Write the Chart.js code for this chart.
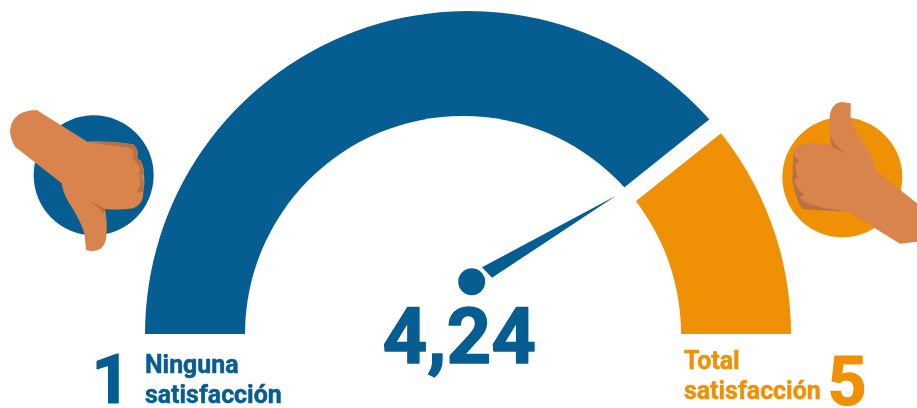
<!DOCTYPE html>
<html>
<head>
<meta charset="utf-8">
<style>
  html, body { margin: 0; padding: 0; background: #fff; overflow: hidden; }
  canvas { display: block; }
</style>
<script src="https://cdn.jsdelivr.net/npm/chart.js@4"></script>
</head>
<body>
<canvas id="gaugeCanvas" width="917" height="408"></canvas>
<script>
// tramos del arco (escala 1 a 5)
var segmentNames = ["Ninguna satisfacción", "Total satisfacción"];
var segmentValues = [3.1, 0.9];
var segmentColors = ["#055d92", "#f09105"];
var valueLabel = "4,24";
var minLabel = "1";
var maxLabel = "5";
var minText = ["Ninguna", "satisfacción"];
var maxText = ["Total", "satisfacción"];

var BLUE = "#055d92";
var ORANGE = "#f09105";
var SKIN = "#d9844d";
var SHADE = "#b87240";
var FONT = "Roboto, 'Liberation Sans', sans-serif";

function poly(ctx, pts, fill) {
    ctx.beginPath();
    ctx.moveTo(pts[0][0], pts[0][1]);
    for (var i = 1; i < pts.length; i++) {
        var p = pts[i];
        if (p.length == 4) ctx.quadraticCurveTo(p[0], p[1], p[2], p[3]);
        else ctx.lineTo(p[0], p[1]);
    }
    ctx.closePath();
    ctx.fillStyle = fill;
    ctx.fill();
}

// el original es algo mas grueso que Roboto bold
function boldText(ctx, str, x, y, extra) {
    ctx.lineWidth = extra;
    ctx.lineJoin = "round";
    ctx.strokeStyle = ctx.fillStyle;
    ctx.strokeText(str, x, y);
    ctx.fillText(str, x, y);
}

// las manos estan en coordenadas de la zona recortada x3
function thumbDown(ctx) {
    ctx.save();
    ctx.translate(0, 95);
    ctx.scale(1 / 3, 1 / 3);
    ctx.beginPath();
    ctx.arc(281, 241, 180, 0, Math.PI * 2);
    ctx.fillStyle = BLUE;
    ctx.fill();
    poly(ctx, [[110, 45], [262, 140], [330, 138, 400, 148], [418, 165, 412, 190], [432, 200, 432, 240],
        [436, 265, 430, 290], [432, 325, 400, 340], [360, 346, 315, 342], [322, 380, 320, 410], [320, 465, 280, 468],
        [268, 468, 258, 465], [255, 420, 250, 405], [235, 365, 205, 320], [188, 290, 185, 265], [45, 155],
        [30, 130, 30, 105], [35, 65, 70, 52], [90, 45, 110, 45]], SKIN);
    poly(ctx, [[262, 140], [330, 136, 400, 148], [418, 165, 412, 188], [405, 190, 396, 190], [410, 165, 385, 158], [320, 152, 262, 140]], SHADE);
    poly(ctx, [[412, 190], [432, 200, 432, 240], [425, 242, 416, 240], [428, 215, 396, 190]], SHADE);
    poly(ctx, [[416, 240], [436, 250, 430, 285], [420, 298, 410, 290], [428, 270, 416, 240]], SHADE);
    poly(ctx, [[268, 318], [300, 330, 315, 342], [312, 352, 310, 356], [295, 335, 268, 318]], SHADE);
    ctx.restore();
}

function thumbUp(ctx) {
    ctx.save();
    ctx.translate(770, 90);
    ctx.scale(1 / 3, 1 / 3);
    ctx.beginPath();
    ctx.arc(217, 262, 180, 0, Math.PI * 2);
    ctx.fillStyle = ORANGE;
    ctx.fill();
    poly(ctx, [[242, 40], [242, 85], [255, 125, 285, 165], [310, 200, 315, 240], [441, 340], [441, 455], [390, 461],
        [235, 365], [150, 362, 100, 357], [85, 345, 78, 315], [66, 280, 68, 250], [66, 200, 72, 180], [85, 160, 120, 160],
        [150, 158, 185, 165], [176, 130, 178, 90], [180, 40, 215, 36]], SKIN);
    poly(ctx, [[182, 135], [190, 170, 232, 190], [205, 182, 188, 172], [180, 160, 182, 135]], SHADE);
    poly(ctx, [[70, 195], [88, 212], [76, 222], [76, 245, 84, 262], [72, 270], [82, 300, 104, 316], [90, 322], [102, 350, 235, 365], [100, 358], [85, 345, 78, 315], [64, 280, 68, 250]], SHADE);
    ctx.restore();
}

var gaugeDecor = {
    id: "gaugeDecor",
    afterDatasetsDraw: function(chart) {
        var ctx = chart.ctx;
        var arc = chart.getDatasetMeta(0).data[0];
        var cx = arc.x, cy = arc.y, R = arc.outerRadius;
        var ang = arc.endAngle;

        // hueco blanco entre los dos tramos
        var mid = (R + 218) / 2;
        var tilt = 0.033;
        var mx = cx + Math.cos(ang) * mid + 0.5, my = cy + Math.sin(ang) * mid + 0.7;
        ctx.save();
        ctx.strokeStyle = "#fff";
        ctx.lineWidth = 18;
        ctx.beginPath();
        ctx.moveTo(mx - Math.cos(ang + tilt) * 80, my - Math.sin(ang + tilt) * 80);
        ctx.lineTo(mx + Math.cos(ang + tilt) * 80, my + Math.sin(ang + tilt) * 80);
        ctx.stroke();

        // borde interior, su centro esta un poco a la izquierda
        ctx.fillStyle = "#fff";
        ctx.beginPath();
        ctx.arc(cx - 5, cy, 218, 0, Math.PI * 2);
        ctx.fill();

        // aguja y pivote
        var px = cx + 3.7, py = cy - 52.3;
        var tipA = ang - 0.044;
        ctx.fillStyle = BLUE;
        ctx.beginPath();
        ctx.moveTo(cx + Math.cos(tipA) * 203, cy + Math.sin(tipA) * 203);
        ctx.lineTo(px + 10.3, py - 14.4);
        ctx.lineTo(px + 20.3, py - 4);
        ctx.closePath();
        ctx.fill();
        ctx.beginPath();
        ctx.arc(px, py, 13.5, 0, Math.PI * 2);
        ctx.fill();
        ctx.restore();

        thumbDown(ctx);
        thumbUp(ctx);

        // textos
        ctx.save();
        ctx.textBaseline = "alphabetic";
        ctx.textAlign = "left";
        ctx.fillStyle = BLUE;
        ctx.font = "bold 78px " + FONT;
        boldText(ctx, valueLabel, 382.5, 362.5, 1.5);
        ctx.font = "bold 68px " + FONT;
        boldText(ctx, minLabel, 91.5, 403, 1.2);
        ctx.font = "bold 24.9px " + FONT;
        boldText(ctx, minText[0], 145, 373, 0.5);
        boldText(ctx, minText[1], 145, 403, 0.5);
        ctx.fillStyle = ORANGE;
        boldText(ctx, maxText[0], 684, 369, 0.5);
        boldText(ctx, maxText[1], 684, 399, 0.5);
        ctx.font = "bold 68px " + FONT;
        boldText(ctx, maxLabel, 827.5, 405, 1.2);
        ctx.restore();
    }
};

document.addEventListener("DOMContentLoaded", function() {
    new Chart(document.getElementById("gaugeCanvas").getContext("2d"), {
        type: "doughnut",
        data: {
            labels: segmentNames,
            datasets: [{
                data: segmentValues,
                backgroundColor: segmentColors,
                borderWidth: 0
            }]
        },
        options: {
            responsive: false,
            animation: false,
            rotation: -90,
            circumference: 180,
            cutout: "60%",
            layout: { padding: { left: 145, right: 126, top: 11, bottom: 74 } },
            plugins: {
                legend: { display: false },
                tooltip: { enabled: false }
            }
        },
        plugins: [gaugeDecor]
    });
});
</script>
</body>
</html>
